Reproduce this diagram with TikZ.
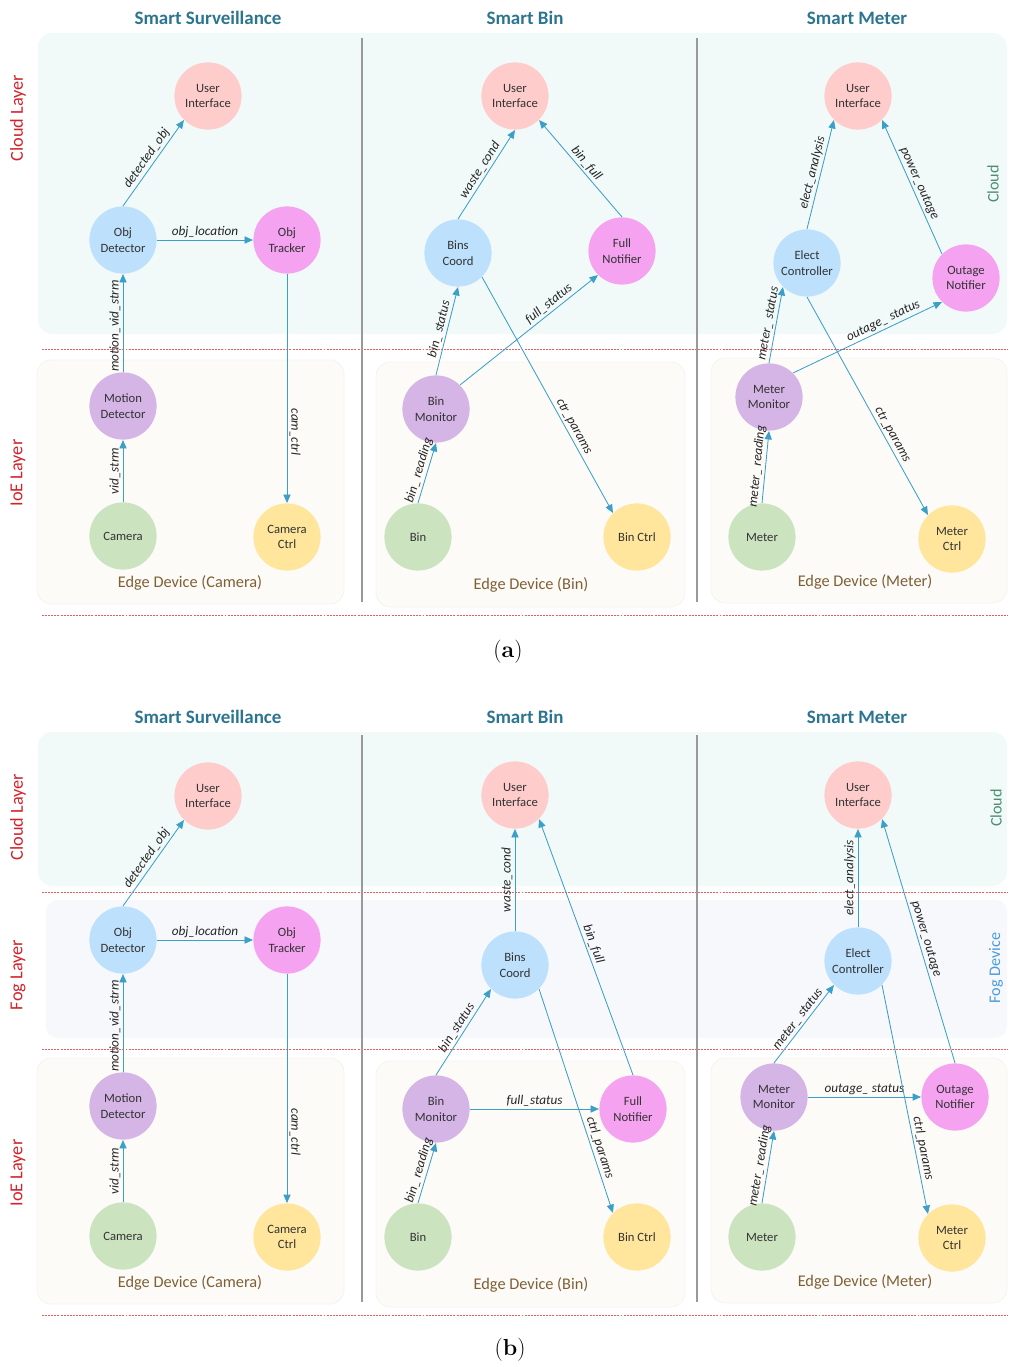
\documentclass[tikz,border=0pt]{standalone}
\usepackage{fontspec}
\newfontfamily\carl{Carlito}
\usetikzlibrary{arrows.meta,positioning}

\definecolor{uipink}{RGB}{255,204,204}
\definecolor{hubblue}{RGB}{189,225,252}
\definecolor{notifpink}{RGB}{245,163,240}
\definecolor{monpurple}{RGB}{213,180,230}
\definecolor{devgreen}{RGB}{204,227,192}
\definecolor{ctrlyellow}{RGB}{255,230,156}
\definecolor{flowblue}{RGB}{60,159,200}
\definecolor{cloudbg}{RGB}{241,249,249}
\definecolor{fogbg}{RGB}{246,248,251}
\definecolor{edgebg}{RGB}{252,251,248}
\definecolor{edgeline}{RGB}{246,243,237}
\definecolor{titleblue}{RGB}{44,117,145}
\definecolor{layerred}{RGB}{210,35,42}
\definecolor{edgebrown}{RGB}{127,96,53}
\definecolor{cloudgreen}{RGB}{74,143,111}
\definecolor{fogblue}{RGB}{74,155,220}
\definecolor{sepred}{RGB}{228,96,96}

\tikzset{
every picture/.style={
line width=0.6pt
}}
\tikzset{
  task/.style={
    circle, minimum size=1.68cm, inner sep=0pt, align=center,
    font=\carl\fontsize{9}{11}\selectfont, text=black!80
  },
  ui/.style={task, fill=uipink},
  hub/.style={task, fill=hubblue},
  notif/.style={task, fill=notifpink},
  mon/.style={task, fill=monpurple},
  dev/.style={task, fill=devgreen},
  ctrl/.style={task, fill=ctrlyellow},
  flow/.style={draw=flowblue, line width=0.6pt, -{Triangle[length=2.1mm,width=1.8mm]}},
  msg/.style={font=\carl\itshape\fontsize{9.4}{11}\selectfont, text=black!85,
    pos=0.5, sloped, above, inner sep=1.5pt},
  title/.style={font=\carl\bfseries\fontsize{13.5}{15}\selectfont, text=titleblue},
  layer/.style={font=\carl\fontsize{13}{15}\selectfont, text=layerred, rotate=90},
  side/.style={font=\carl\fontsize{11.5}{14}\selectfont, rotate=90},
  devname/.style={font=\carl\fontsize{11.6}{14}\selectfont, text=edgebrown},
  cloudbox/.style={fill=cloudbg, rounded corners=10pt},
  fogbox/.style={fill=fogbg, rounded corners=8pt},
  edgebox/.style={fill=edgebg, draw=edgeline, line width=0.5pt, rounded corners=10pt},
  sep/.style={draw=sepred, line width=0.5pt, dash pattern=on 1.4pt off 0.8pt},
  colsep/.style={draw=black!40, line width=0.9pt},
  caption/.style={font=\fontsize{16.5}{19}\selectfont},
  survcol/.pic={
    \node[ui] (-ui) at (208,96) {User\\Interface};
    \node[hub] (-det) at (123,240) {Obj\\Detector};
    \node[notif] (-trk) at (287,240) {Obj\\Tracker};
    \node[mon] (-mot) at (123,406) {Motion\\Detector};
    \node[dev] (-cam) at (123,536) {Camera};
    \node[ctrl] (-cc) at (287,537) {Camera\\Ctrl};
    \draw[flow] (-det.north) -- node[msg] {detected\_obj} (-ui.south west);
    \draw[flow] (-det.east) -- node[msg] {obj\_location} (-trk.west);
    \draw[flow] (-mot.north) -- node[msg, pos=0.47] {motion\_vid\_strm} (-det.south);
    \draw[flow] (-cam.north) -- node[msg] {vid\_strm} (-mot.south);
    \draw[flow] (-trk.south) -- node[msg, pos=0.69] {cam\_ctrl} (-cc.north);
  }
}

\begin{document}
\begin{tikzpicture}[x=0.025cm, y=-0.025cm]
\useasboundingbox (0,0) rectangle (1008,1367);

% (a) cloud + IoE
\fill[cloudbox] (38,33) rectangle (1007,334);
\filldraw[edgebox] (37,360) rectangle (344,604);
\filldraw[edgebox] (376,362) rectangle (685,607);
\filldraw[edgebox] (711,358) rectangle (1007,603);

% (b) cloud + fog + IoE
\fill[cloudbox] (38,732) rectangle (1007,886);
\fill[fogbox] (46,900) rectangle (1007,1038);
\filldraw[edgebox] (37,1058) rectangle (344,1304);
\filldraw[edgebox] (376,1061) rectangle (685,1307);
\filldraw[edgebox] (711,1058) rectangle (1007,1303);

\foreach \y in {349,615,892,1049,1315}
  \draw[sep] (42,\y) -- (1008,\y);
\foreach \x in {362,697} {
  \draw[colsep] (\x,38) -- (\x,602);
  \draw[colsep] (\x,735) -- (\x,1302);
}

\foreach \y in {18,717} {
  \node[title] (surv\y) at (208,\y) {Smart Surveillance};
  \node[title] (sbin\y) at (525,\y) {Smart Bin};
  \node[title] (smet\y) at (857,\y) {Smart Meter};
}
\foreach \y in {583,1283} {
  \node[devname] (ecam\y) at (190,\y) {Edge Device (Camera)};
  \node[devname] (ebin\y) at (531,\y+2) {Edge Device (Bin)};
  \node[devname] (emet\y) at (865,\y-1) {Edge Device (Meter)};
}

\node[layer] (cla) at (18,118) {Cloud Layer};
\node[layer] (ila) at (18,473) {IoE Layer};
\node[layer] (clb) at (18,817) {Cloud Layer};
\node[layer] (flb) at (18,975) {Fog Layer};
\node[layer] (ilb) at (18,1173) {IoE Layer};
\node[side, text=cloudgreen] (cra) at (993,184) {Cloud};
\node[side, text=cloudgreen] (crb) at (996,808) {Cloud};
\node[side, text=fogblue] (frb) at (996,968) {Fog Device};

% smart surveillance
\pic (sa) at (0,0) {survcol};
\pic (sb) at (0,700) {survcol};

% smart bin (a)
\node[ui] (bui1) at (515,96) {User\\Interface};
\node[hub] (bco1) at (458,253) {Bins\\Coord};
\node[notif] (bfn1) at (622,251) {Full\\Notifier};
\node[mon] (bmo1) at (436,409) {Bin\\Monitor};
\node[dev] (bin1) at (418,537) {Bin};
\node[ctrl] (bct1) at (637,537) {Bin Ctrl};
\draw[flow] (bco1.north) -- node[msg] {waste\_cond} (bui1.south);
\draw[flow] (bfn1.north) -- node[msg] {bin\_full} (bui1.south east);
\draw[flow] (bmo1.north) -- node[msg] {bin\_ status} (bco1.south);
\draw[flow] (bmo1.north east) -- node[msg, pos=0.68] {full\_status} (bfn1.south west);
\draw[flow] (bco1.south east) -- node[msg, pos=0.65] {ctr\_params} (bct1.north west);
\draw[flow] (bin1.north) -- node[msg] {bin\_ reading} (bmo1.south);

% smart meter (a)
\node[ui] (mui1) at (858,96) {User\\Interface};
\node[hub] (mec1) at (807,263) {Elect\\Controller};
\node[notif] (mout1) at (966,278) {Outage\\Notifier};
\node[mon] (mmo1) at (769,397) {Meter\\Monitor};
\node[dev] (met1) at (762,537) {Meter};
\node[ctrl] (mct1) at (952,539) {Meter\\Ctrl};
\draw[flow] (mec1.north) -- node[msg] {elect\_analysis} (mui1.south west);
\draw[flow] (mout1.north west) -- node[msg] {power\_outage} (mui1.south east);
\draw[flow] (mmo1.north) -- node[msg] {meter\_ status} (mec1.south west);
\draw[flow] (mmo1.north east) -- node[msg, pos=0.63] {outage\_ status} (mout1.south west);
\draw[flow] (mec1.south) -- node[msg, pos=0.65] {ctr\_params} (mct1.north west);
\draw[flow] (met1.north) -- node[msg] {meter\_ reading} (mmo1.south);

% smart bin (b)
\node[ui] (bui2) at (515,795) {User\\Interface};
\node[hub] (bco2) at (515,965) {Bins\\Coord};
\node[mon] (bmo2) at (436,1109) {Bin\\Monitor};
\node[notif] (bfn2) at (633,1109) {Full\\Notifier};
\node[dev] (bin2) at (418,1237) {Bin};
\node[ctrl] (bct2) at (637,1237) {Bin Ctrl};
\draw[flow] (bco2.north) -- node[msg] {waste\_cond} (bui2.south);
\draw[flow] (bfn2.north) -- node[msg] {bin\_full} (bui2.south east);
\draw[flow] (bmo2.north) -- node[msg] {bin\_status} (bco2.south west);
\draw[flow] (bmo2.east) -- node[msg] {full\_status} (bfn2.west);
\draw[flow] (bco2.south east) -- node[msg, pos=0.72] {ctrl\_params} (bct2.north west);
\draw[flow] (bin2.north) -- node[msg] {bin\_ reading} (bmo2.south);

% smart meter (b)
\node[ui] (mui2) at (858,795) {User\\Interface};
\node[hub] (mec2) at (858,961) {Elect\\Controller};
\node[mon] (mmo2) at (774,1097) {Meter\\Monitor};
\node[notif] (mout2) at (955,1097) {Outage\\Notifier};
\node[dev] (met2) at (762,1237) {Meter};
\node[ctrl] (mct2) at (952,1238) {Meter\\Ctrl};
\draw[flow] (mec2.north) -- node[msg] {elect\_analysis} (mui2.south);
\draw[flow] (mout2.north) -- node[msg] {power\_outage} (mui2.south east);
\draw[flow] (mmo2.north) -- node[msg] {meter\_ status} (mec2.south west);
\draw[flow] (mmo2.east) -- node[msg] {outage\_ status} (mout2.west);
\draw[flow] (mec2.south east) -- node[msg, pos=0.72] {ctrl\_params} (mct2.north west);
\draw[flow] (met2.north) -- node[msg] {meter\_ reading} (mmo2.south);

\node[caption] (capa) at (508,652) {(\textbf{a})};
\node[caption] (capb) at (510,1350) {(\textbf{b})};
\end{tikzpicture}
\end{document}
